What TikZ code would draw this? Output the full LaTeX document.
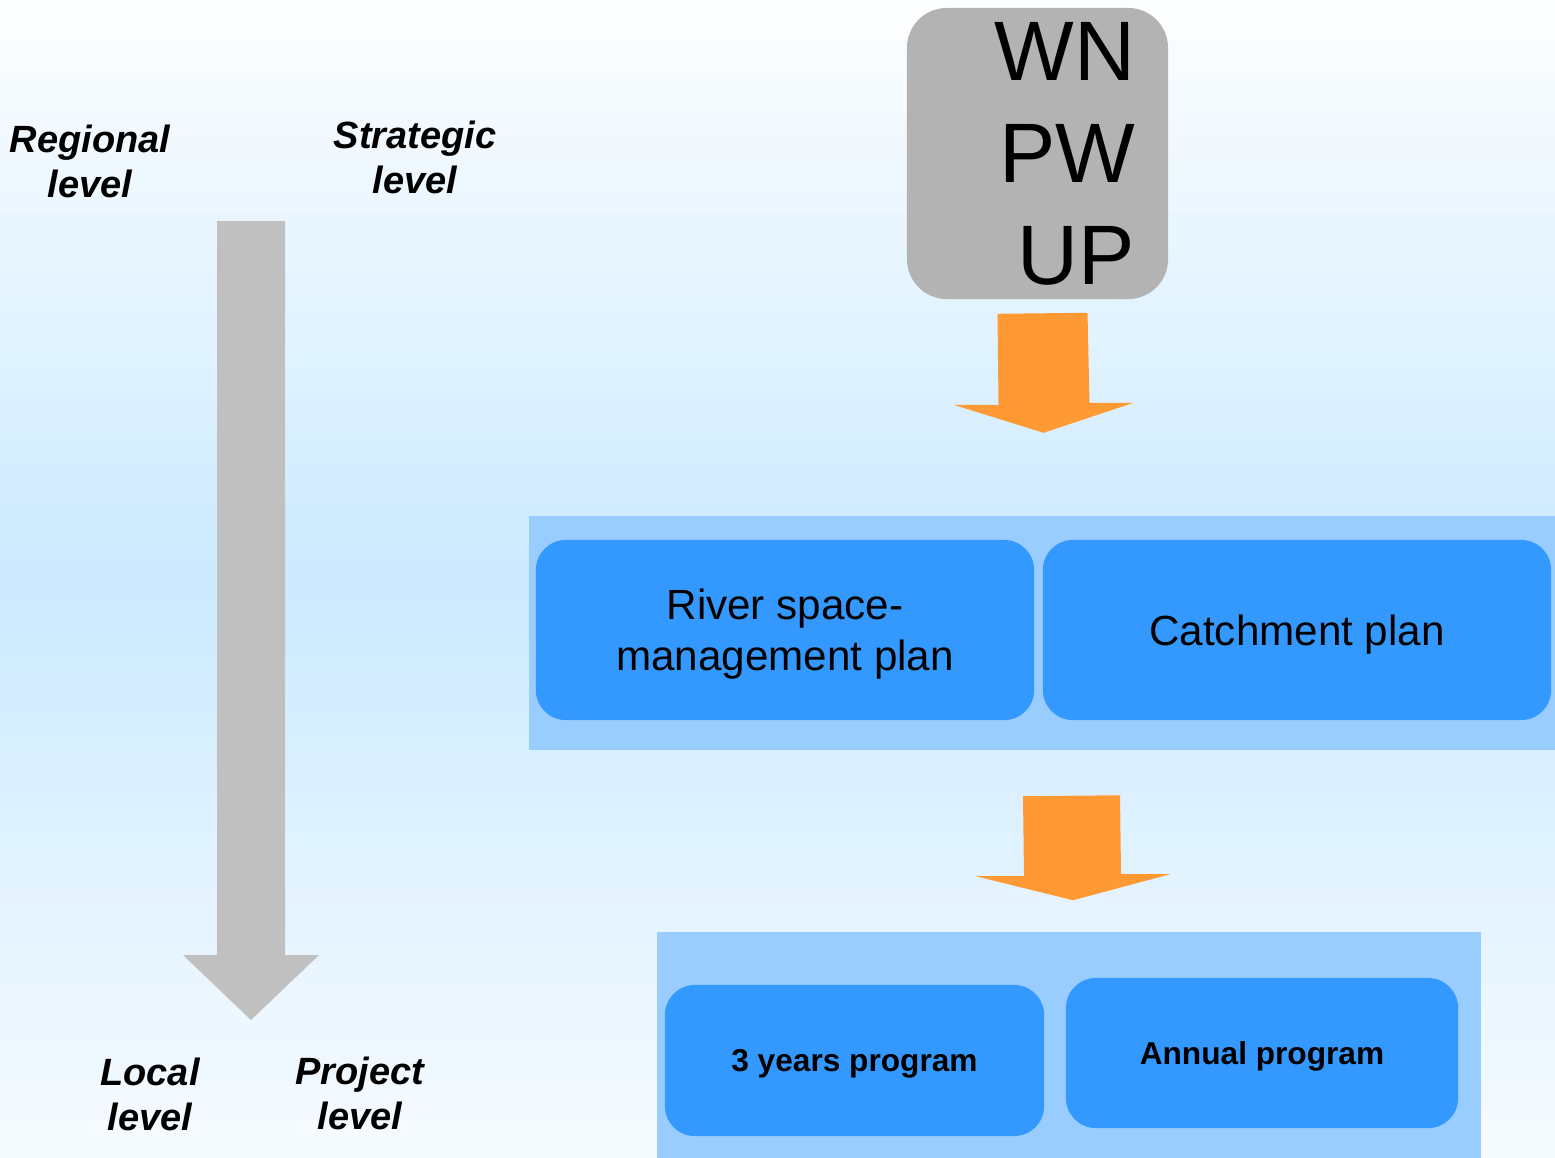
\documentclass[tikz,border=0pt]{standalone}
\usepackage{fontspec}
\setmainfont{Liberation Sans}
\usetikzlibrary{positioning,calc}
\definecolor{bgtop}{RGB}{253, 254, 255}
\definecolor{bgmid}{RGB}{204, 234, 255}
\definecolor{bgbot}{RGB}{247, 251, 255}
\definecolor{plancolor}{RGB}{51, 153, 255}
\definecolor{framecolor}{RGB}{153, 204, 255}
\definecolor{flowcolor}{RGB}{255, 153, 51}
\definecolor{scalecolor}{RGB}{192, 192, 192}
\definecolor{lawcolor}{RGB}{179, 179, 179}

\begin{document}
\begin{tikzpicture}[
    x=0.01cm, y=-0.01cm,
    levellabel/.style={align=center, font=\fontsize{10.8}{12.8}\selectfont\bfseries\itshape, inner sep=0pt},
    planframe/.style={rectangle, fill=framecolor, inner sep=0pt},
    plan/.style={rectangle, fill=plancolor, rounded corners=0.3cm, align=center, inner sep=0pt, text depth=0pt},
    program/.style={plan, font=\fontsize{9}{11}\selectfont\bfseries},
    flow/.style={fill=flowcolor},
]
    \useasboundingbox (0,0) rectangle (1555,1157);

    % Background (top half, bottom half)
    \foreach \i in {0,...,29} {
        \pgfmathtruncatemacro{\pct}{100*(\i+0.5)/30}
        \fill[bgmid!\pct!bgtop] (0,{\i*19.3}) rectangle (1555,{(\i+1)*19.3+1});
    }
    \foreach \i in {0,...,29} {
        \pgfmathtruncatemacro{\pct}{100*(\i+0.5)/30}
        \fill[bgbot!\pct!bgmid] (0,{579+\i*19.3}) rectangle (1555,{579+(\i+1)*19.3+1});
    }

    % === LEVELS (left) ===
    \node[levellabel] (regional) at (90, 161) {Regional\\level};
    \node[levellabel] (strategic) at (415, 157) {Strategic\\level};
    \node[levellabel] (local) at (150, 1094) {Local\\level};
    \node[levellabel] (project) at (360, 1093) {Project\\level};

    % Scale arrow
    \coordinate (scaletop) at (251, 221);
    \coordinate (scaletip) at (251, 1020);
    \fill[scalecolor] ($(scaletop)+(-34,0)$) -- ($(scaletop)+(34,0)$) -- ($(scaletip)+(34,-65)$)
        -- ($(scaletip)+(68,-65)$) -- (scaletip) -- ($(scaletip)+(-68,-65)$) -- ($(scaletip)+(-34,-65)$) -- cycle;

    % === LEGISLATION ===
    \node[rectangle, fill=lawcolor, rounded corners=0.4cm, minimum width=2.61cm, minimum height=2.91cm,
        text width=1.95cm, inner xsep=0.33cm, align=right, font=\fontsize{24}{29}\selectfont]
        (law) at (1037.5, 153.5) {WN\\PW\\UP};

    % === PLANS ===
    \node[planframe, minimum width=10.26cm, minimum height=2.34cm] (plans) at (1042, 633) {};
    \node[plan, minimum width=4.98cm, minimum height=1.80cm, font=\fontsize{12}{14.5}\selectfont] (river) at (785, 630) {River space-\\management plan};
    \node[plan, minimum width=5.08cm, minimum height=1.80cm, font=\fontsize{12}{14.5}\selectfont] (catch) at (1297, 630) {Catchment plan};

    % === PROGRAMS ===
    \node[planframe, minimum width=8.24cm, minimum height=2.30cm] (programs) at (1069, 1047) {};
    \node[program, minimum width=3.79cm, minimum height=1.51cm] (threeyr) at (854.5, 1060.5) {3 years program};
    \node[program, minimum width=3.92cm, minimum height=1.50cm] (annual) at (1262, 1053) {Annual program};

    % Flow arrows
    \coordinate (flowa) at ($(law.south)+(5,13)$);
    \fill[flow] ($(flowa)+(-45,1)$) -- ($(flowa)+(45,0)$) -- ($(flowa)+(47,90)$) -- ($(flowa)+(91,90)$)
        -- ($(flowa)+(1,120)$) -- ($(flowa)+(-89,92)$) -- ($(flowa)+(-44,92)$) -- cycle;
    \coordinate (flowb) at ($(programs.north)+(3,-136)$);
    \fill[flow] ($(flowb)+(-49,1)$) -- ($(flowb)+(48,0)$) -- ($(flowb)+(49,79)$) -- ($(flowb)+(98,79)$)
        -- ($(flowb)+(1,105)$) -- ($(flowb)+(-96,81)$) -- ($(flowb)+(-48,81)$) -- cycle;

\end{tikzpicture}
\end{document}
